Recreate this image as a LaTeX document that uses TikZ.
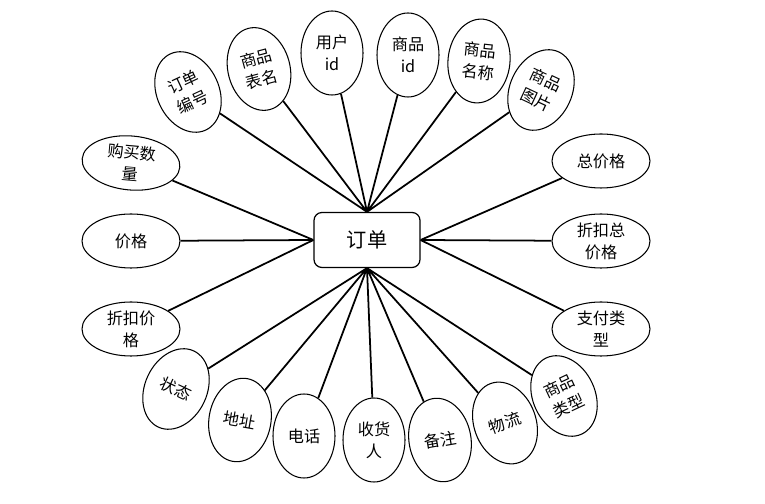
\documentclass[tikz,border=0pt]{standalone}
\usepackage{fontspec}
\setmainfont{Noto Sans CJK SC}
\usepackage{tikz}
\usetikzlibrary{shapes.geometric}

\begin{document}
\begin{tikzpicture}[
    entity/.style={draw=black, line width=0.7pt, rounded corners=4.5pt, minimum width=2.12cm, minimum height=1.10cm, font=\fontsize{11.5}{13}\selectfont},
    attr/.style={ellipse, draw=black, line width=0.6pt, inner sep=0pt, align=center, font=\fontsize{9.2}{12.5}\selectfont},
    tall/.style={attr, minimum width=1.24cm, minimum height=1.68cm},
    wide/.style={attr, minimum width=1.96cm, minimum height=1.08cm},
    link/.style={line width=1.0pt}
]
\useasboundingbox (0,0) rectangle (15.3,10.08);

% === Entity ===
\node[entity] (ord) at (7.34, 5.28) {订单};

% === Top attributes ===
\node[tall, rotate=25] (orderNo) at (3.76, 8.24) {订单\\编号};
\node[tall, rotate=15] (goodsTable) at (5.18, 8.70) {商品\\表名};
\node[tall] (userId) at (6.64, 9.02) {用户\\id};
\node[tall] (goodsId) at (8.16, 8.98) {商品\\id};
\node[tall, rotate=-6] (goodsName) at (9.58, 8.86) {商品\\名称};
\node[tall, rotate=-25] (goodsPic) at (10.82, 8.28) {商品\\图片};

% === Left attributes ===
\node[wide, rotate=-5] (buyNum) at (2.62, 6.82) {购买数\\量};
\node[wide] (price) at (2.62, 5.26) {价格};
\node[wide] (discPrice) at (2.62, 3.50) {折扣价\\格};

% === Right attributes ===
\node[wide] (total) at (12.02, 6.86) {总价格};
\node[wide] (discTotal) at (12.02, 5.26) {折扣总\\价格};
\node[wide] (payType) at (12.02, 3.50) {支付类\\型};

% === Bottom attributes ===
\node[tall, rotate=-25] (state) at (3.52, 2.30) {状态};
\node[tall, rotate=-10] (addr) at (4.80, 1.68) {地址};
\node[tall] (phone) at (6.08, 1.36) {电话};
\node[tall] (receiver) at (7.48, 1.28) {收货\\人};
\node[tall, rotate=10] (remark) at (8.80, 1.28) {备注};
\node[tall, rotate=20] (logistics) at (10.10, 1.62) {物流};
\node[tall, rotate=25] (goodsType) at (11.28, 2.16) {商品\\类型};

% Links
\draw[link] (ord.north) -- (orderNo)
            (ord.north) -- (goodsTable)
            (ord.north) -- (userId)
            (ord.north) -- (goodsId)
            (ord.north) -- (goodsName)
            (ord.north) -- (goodsPic);
\draw[link] (ord.west) -- (buyNum)
            (ord.west) -- (price)
            (ord.west) -- (discPrice);
\draw[link] (ord.east) -- (total)
            (ord.east) -- (discTotal)
            (ord.east) -- (payType);
\draw[link] (ord.south) -- (state)
            (ord.south) -- (addr)
            (ord.south) -- (phone)
            (ord.south) -- (receiver)
            (ord.south) -- (remark)
            (ord.south) -- (logistics)
            (ord.south) -- (goodsType);
\end{tikzpicture}
\end{document}
